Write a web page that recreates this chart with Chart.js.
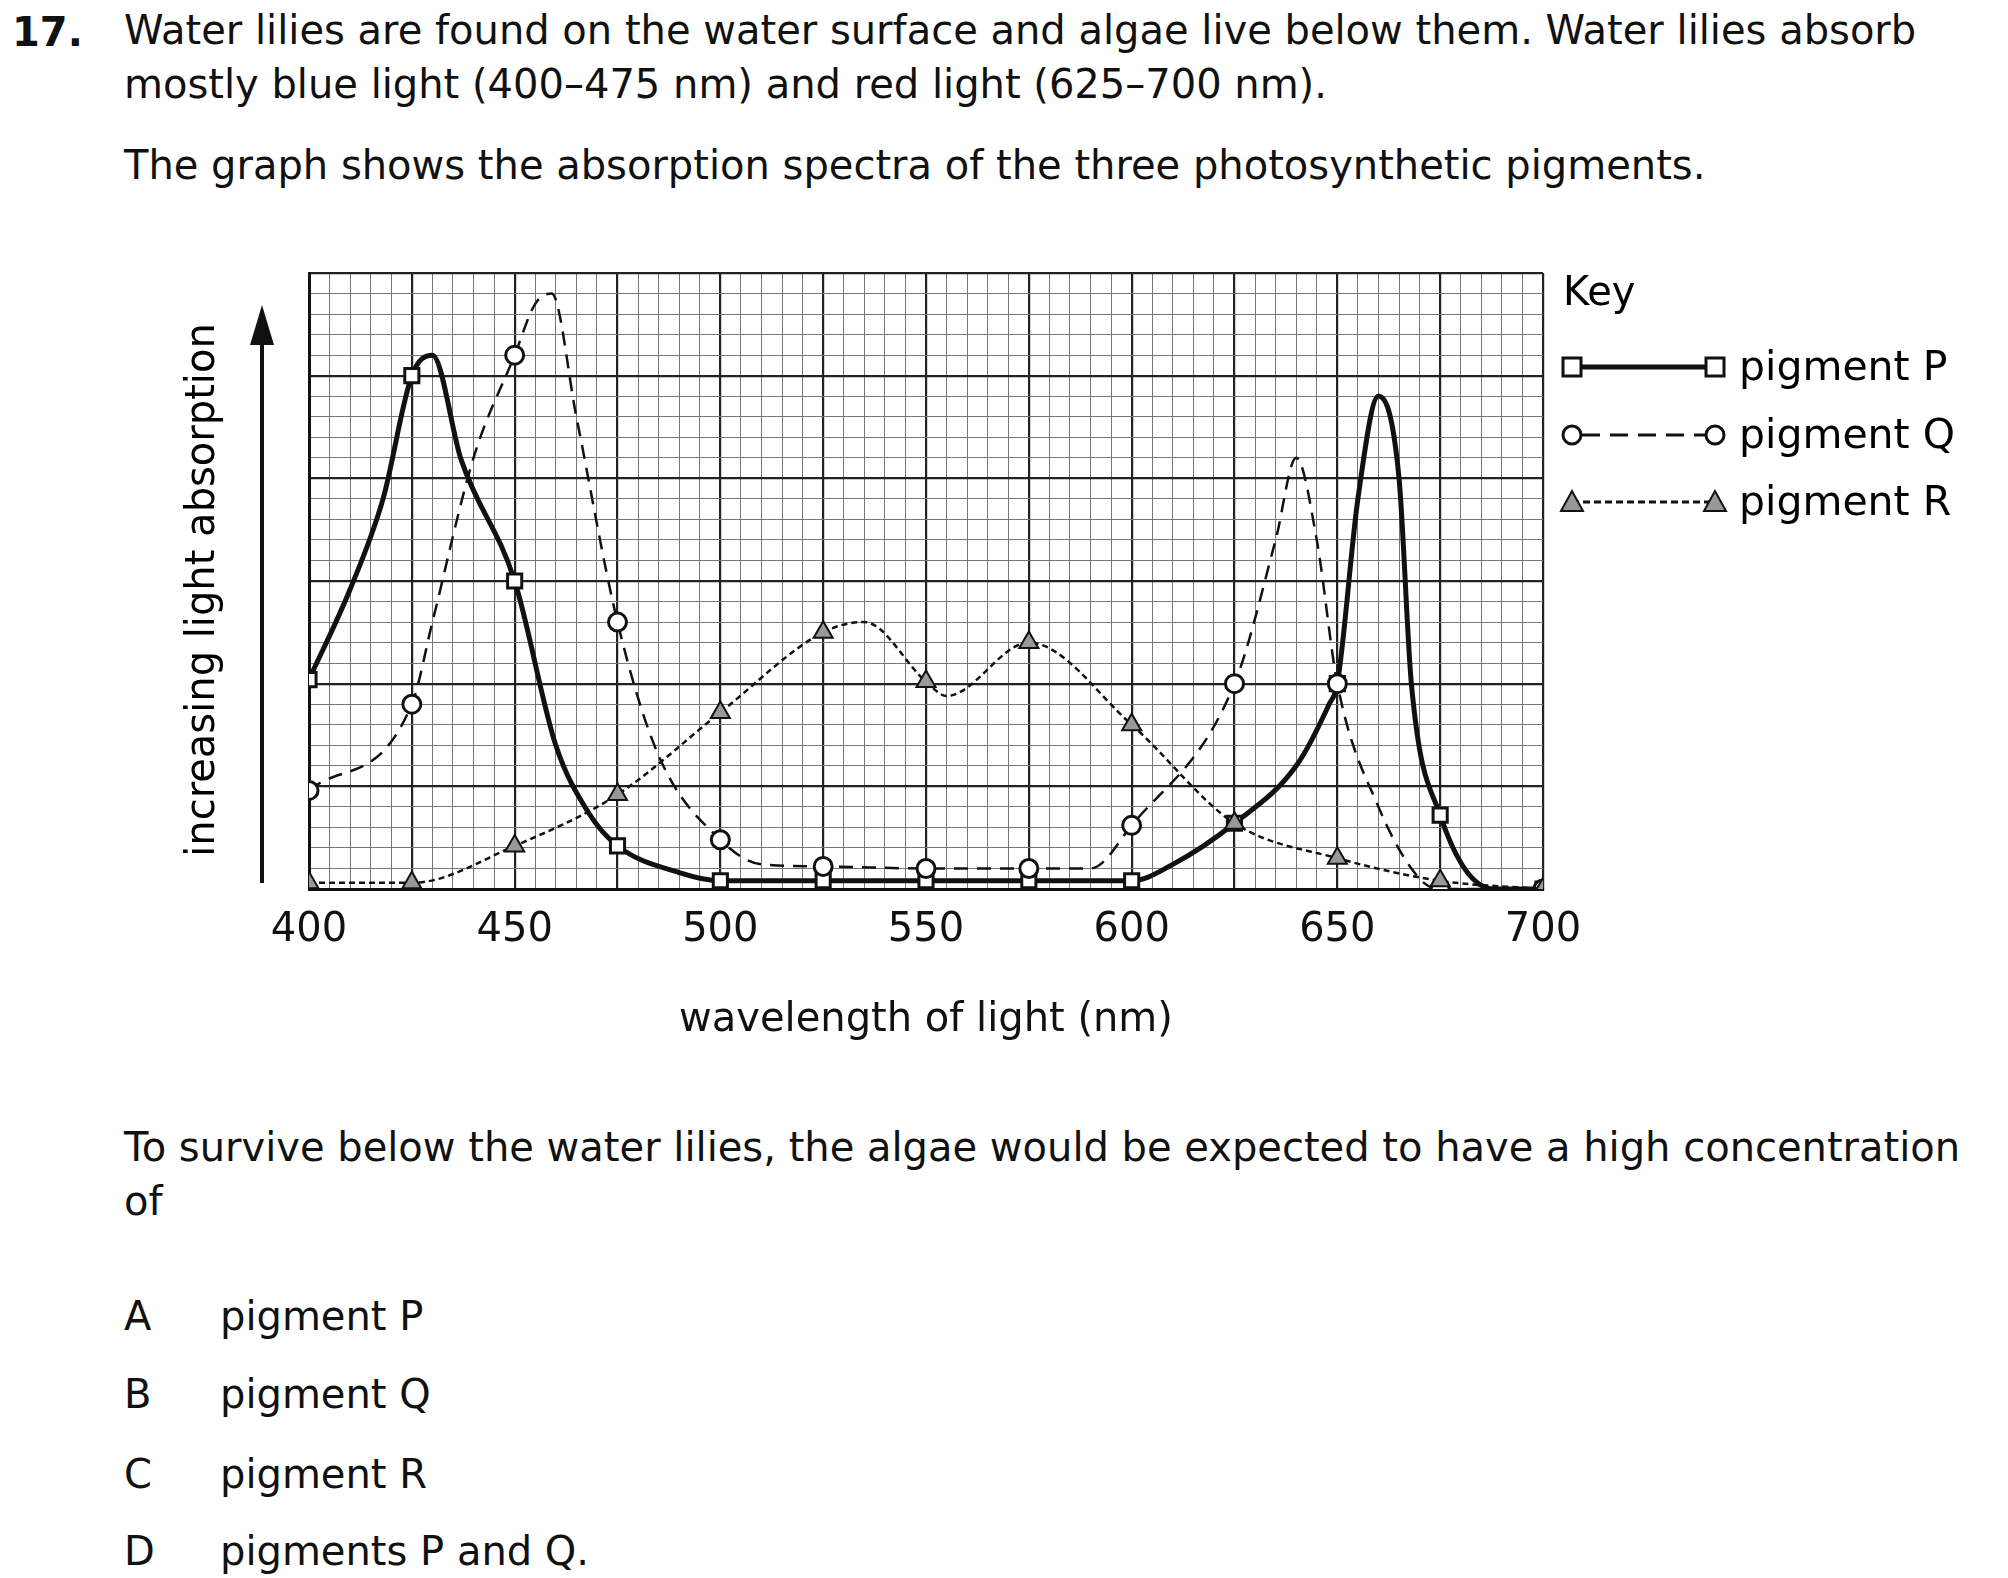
<!DOCTYPE html>
<html><head><meta charset="utf-8">
<script src="https://cdn.jsdelivr.net/npm/chart.js@4/dist/chart.umd.min.js"></script>
<style>
body{margin:0;width:2008px;height:1578px;background:#fff;position:relative;font-family:"DejaVu Sans",sans-serif;color:#111;overflow:hidden}
.t{position:absolute;font-size:40px;white-space:nowrap;line-height:1}
#wrap{position:absolute;left:0;top:230px;width:2008px;height:819px}
</style></head><body>
<div class="t" style="left:12px;top:12px;font-weight:bold">17.</div>
<div class="t" style="left:124px;top:10px">Water lilies are found on the water surface and algae live below them. Water lilies absorb</div>
<div class="t" style="left:124px;top:64px">mostly blue light (400–475 nm) and red light (625–700 nm).</div>
<div class="t" style="left:124px;top:145px">The graph shows the absorption spectra of the three photosynthetic pigments.</div>
<div class="t" style="left:124px;top:1127px">To survive below the water lilies, the algae would be expected to have a high concentration</div>
<div class="t" style="left:124px;top:1181px">of</div>
<div class="t" style="left:124px;top:1296px">A</div><div class="t" style="left:220px;top:1296px">pigment P</div>
<div class="t" style="left:124px;top:1374px">B</div><div class="t" style="left:220px;top:1374px">pigment Q</div>
<div class="t" style="left:124px;top:1454px">C</div><div class="t" style="left:220px;top:1454px">pigment R</div>
<div class="t" style="left:124px;top:1531px">D</div><div class="t" style="left:220px;top:1531px">pigments P and Q.</div>
<div id="wrap"><canvas id="c" width="2008" height="819"></canvas></div>
<svg style="position:absolute;left:0;top:0" width="2008" height="1578">
<line x1="262" y1="883" x2="262" y2="335" stroke="#111" stroke-width="4"/>
<polygon points="262,305 250,345 274,345" fill="#111"/>
<text x="0" y="0" transform="translate(214,590) rotate(-90)" text-anchor="middle" font-size="40" font-family="DejaVu Sans">increasing light absorption</text>
<text x="1563" y="305" font-size="40" font-family="DejaVu Sans">Key</text>
<line x1="1572" y1="367" x2="1715" y2="367" stroke="#111" stroke-width="5"/>
<rect x="1563" y="358" width="18" height="18" fill="#fff" stroke="#111" stroke-width="3"/>
<rect x="1706" y="358" width="18" height="18" fill="#fff" stroke="#111" stroke-width="3"/>
<line x1="1582" y1="435" x2="1705" y2="435" stroke="#111" stroke-width="3" stroke-dasharray="18,10"/>
<circle cx="1572" cy="435" r="9" fill="#fff" stroke="#111" stroke-width="3"/>
<circle cx="1715" cy="435" r="9" fill="#fff" stroke="#111" stroke-width="3"/>
<line x1="1572" y1="502" x2="1715" y2="502" stroke="#111" stroke-width="3" stroke-dasharray="7,4"/>
<polygon points="1572,491 1561,511 1583,511" fill="#999" stroke="#111" stroke-width="2"/>
<polygon points="1715,491 1704,511 1726,511" fill="#999" stroke="#111" stroke-width="2"/>
<text x="1739" y="380" font-size="41" font-family="DejaVu Sans">pigment P</text>
<text x="1739" y="448" font-size="41" font-family="DejaVu Sans">pigment Q</text>
<text x="1739" y="515" font-size="41" font-family="DejaVu Sans">pigment R</text>
</svg>
<script>
const pX=[400,410,418,425,430,437,450,460,468,475,490,500,525,550,575,600,610,625,640,648,650,655,660,665,668,675,688,700];
const pY=[10.2,14.6,19,25,26,20.9,15,7,3.7,2.1,0.8,0.4,0.4,0.4,0.4,0.4,1.2,3.2,6,9,10,19,24,20,10,3.6,0,0];
const qX=[400,425,430,440,450,455,459,465,475,485,500,510,525,550,575,590,600,625,635,640,645,650,660,670,675,700];
const qY=[4.8,9,13,21,26,28.5,29,23,13,6.5,2.4,1.2,1.1,1,1,1,3.1,10,17,21,17,10,4,0.5,0,0];
const rX=[400,425,450,475,500,525,535,550,555,575,600,625,650,675,700];
const rY=[0.3,0.3,2.1,4.6,8.6,12.5,13,10.1,9.4,12,8,3.2,1.5,0.4,0];
const xTicks=[400,450,500,550,600,650,700];
const pts=(xs,ys)=>xs.map((x,i)=>({x:x,y:ys[i]}));
const mk=r=>c=>(c.raw&&c.raw.x%25===0)?r:0;
Chart.defaults.font.family="DejaVu Sans";
new Chart(document.getElementById('c'),{type:'line',
data:{datasets:[
{label:'pigment R',data:pts(rX,rY),borderColor:'#111',borderWidth:2.5,borderDash:[6,4],pointStyle:'triangle',pointRadius:mk(11),pointBackgroundColor:'#999',pointBorderColor:'#111',pointBorderWidth:2,cubicInterpolationMode:'monotone'},
{label:'pigment Q',data:pts(qX,qY),borderColor:'#111',borderWidth:2.5,borderDash:[14,9],pointStyle:'circle',pointRadius:mk(9),pointBackgroundColor:'#fff',pointBorderColor:'#111',pointBorderWidth:3,cubicInterpolationMode:'monotone'},
{label:'pigment P',data:pts(pX,pY),borderColor:'#111',borderWidth:5,pointStyle:'rect',pointRadius:mk(10),pointBackgroundColor:'#fff',pointBorderColor:'#111',pointBorderWidth:3,cubicInterpolationMode:'monotone'}
]},
options:{responsive:false,animation:false,devicePixelRatio:1,
layout:{padding:{left:309,right:465,top:43,bottom:0}},
plugins:{legend:{display:false},tooltip:{enabled:false}},
scales:{
x:{type:'linear',min:400,max:700,afterFit:s=>{s.height=160},
 afterBuildTicks:s=>{const t=[];for(let v=400;v<=700;v+=5)t.push({value:v});s.ticks=t;},
 ticks:{autoSkip:false,maxRotation:0,padding:18,color:'#111',font:{size:40},callback:v=>xTicks.includes(v)?String(v):''},
 grid:{drawTicks:false,color:c=>c.tick.value%25===0?'#222':'#777',lineWidth:c=>c.tick.value%25===0?2.2:1},
 border:{display:true,color:'#111',width:3},
 title:{display:true,text:'wavelength of light (nm)',color:'#111',font:{size:40},padding:{top:18}}},
y:{min:0,max:30,afterFit:s=>{s.width=0},
 afterBuildTicks:s=>{const t=[];for(let v=0;v<=30;v++)t.push({value:v});s.ticks=t;},
 ticks:{display:false},
 grid:{drawTicks:false,color:c=>c.tick.value%5===0?'#222':'#777',lineWidth:c=>c.tick.value%5===0?2.2:1},
 border:{display:true,color:'#111',width:3}}
}}});
</script>
</body></html>
